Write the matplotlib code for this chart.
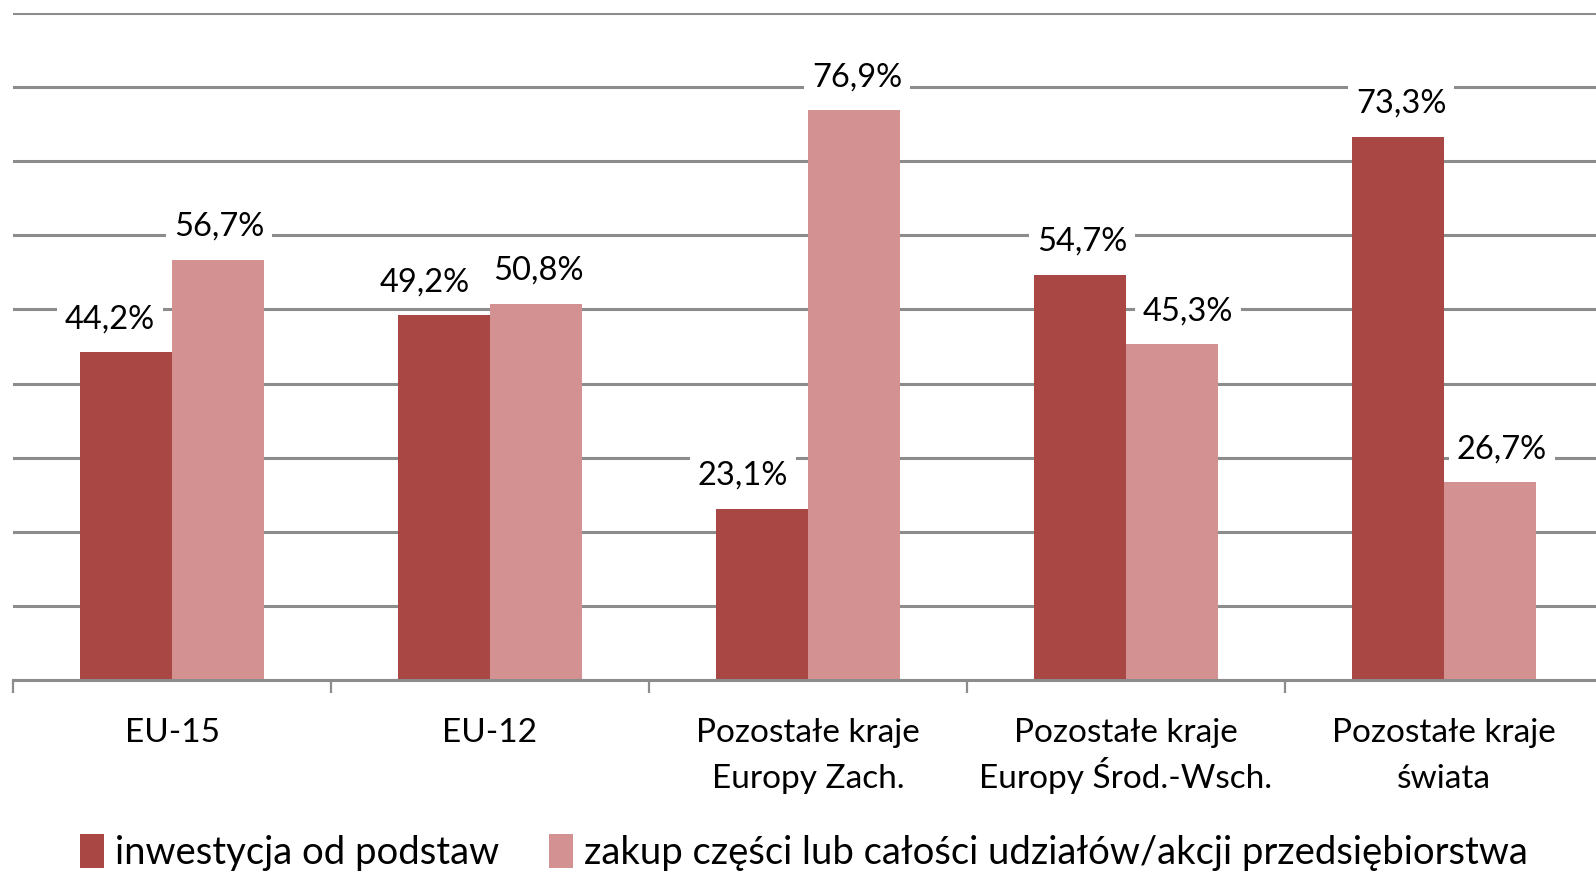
import numpy as np
import matplotlib
matplotlib.use("Agg")
from matplotlib import pyplot as plt

# dane (%)
kategorie = ["EU-15", "EU-12", "Pozostałe kraje\nEuropy Zach.",
             "Pozostałe kraje\nEuropy Środ.-Wsch.", "Pozostałe kraje\nświata"]
od_podstaw = [44.2, 49.2, 23.1, 54.7, 73.3]
zakup = [56.7, 50.8, 76.9, 45.3, 26.7]
seria_nazwy = ["inwestycja od podstaw",
               "zakup części lub całości udziałów/akcji przedsiębiorstwa"]

KOLOR_1 = "#A94744"
KOLOR_2 = "#D39291"
SZARY = "#8C8C8C"

# przesunięcia etykiet w poziomie (px) jak na oryginale
dx_1 = [-16, -19, -19, 2, 3]
dx_2 = [1, 2, 3, 16, 12]

plt.rcParams['font.family'] = ['Lato', 'DejaVu Sans']

fig = plt.figure(figsize=(15.96, 8.76), dpi=100)
ax = fig.add_axes([13 / 1596, 196 / 876, 1590 / 1596, 667 / 876])

x = np.arange(len(kategorie))
w = 0.289
b1 = ax.bar(x - w / 2, od_podstaw, w, color=KOLOR_1, zorder=3, label=seria_nazwy[0])
b2 = ax.bar(x + w / 2, zakup, w, color=KOLOR_2, zorder=3, label=seria_nazwy[1])

px = 72 / 100
for bars, vals, dxs in ((b1, od_podstaw, dx_1), (b2, zakup, dx_2)):
    for r, v, d in zip(bars, vals, dxs):
        ax.annotate(f"{v:.1f}%".replace(".", ","),
                    (r.get_x() + r.get_width() / 2, v),
                    xytext=(d * px, 33 * px), textcoords="offset points",
                    ha="center", va="center", fontsize=23.5, zorder=4,
                    bbox=dict(boxstyle="square,pad=0.25", fc="white", ec="none"))

ax.set_xlim(-0.5, 4.5)
ax.set_ylim(0, 90)
ax.set_yticks(np.arange(0, 91, 10))
ax.yaxis.grid(True, color=SZARY, linewidth=2.2, zorder=0)
ax.tick_params(axis="y", left=False, labelleft=False)
for s in ("left", "right", "top"):
    ax.spines[s].set_visible(False)
ax.spines["bottom"].set_color(SZARY)
ax.spines["bottom"].set_linewidth(2.2)
ax.spines["bottom"].set_zorder(5)

# pierwsza linia jako etykieta osi, druga osobno (równe odstępy mimo "Ś")
linie = [k.split("\n") for k in kategorie]
ax.set_xticks(x, [l[0] for l in linie], fontsize=24)
ax.tick_params(axis="x", which="major", length=0, pad=27.5)
for i, l in enumerate(linie):
    if len(l) > 1:
        ax.annotate(l[1], (x[i], 0), xycoords=("data", "axes fraction"),
                    xytext=(0, -108 * px), textcoords="offset points",
                    ha="center", va="baseline", fontsize=24)
ax.set_xticks(np.arange(-0.5, 5, 1), minor=True)
ax.tick_params(axis="x", which="minor", length=9.5, width=1.6, color=SZARY)

fig.legend(handles=[b1, b2], labels=seria_nazwy, loc="upper left",
           bbox_to_anchor=(80 / 1596, 1 - 834 / 876), ncol=2, frameon=False,
           fontsize=27.5, handlelength=0.62, handleheight=1.0, handletextpad=0.3,
           columnspacing=1.3, borderaxespad=0, borderpad=0)

fig.savefig("out.png", dpi=100)
